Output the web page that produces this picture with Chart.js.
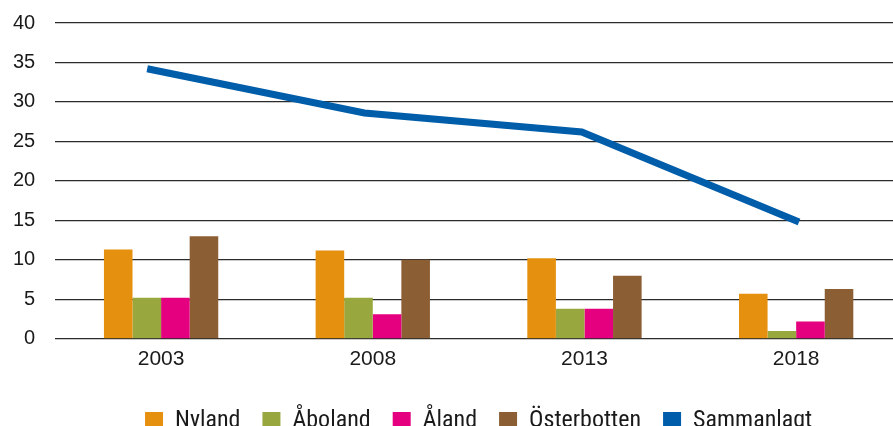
<!DOCTYPE html>
<html>
<head>
<meta charset="utf-8">
<script src="https://cdn.jsdelivr.net/npm/chart.js@4/dist/chart.umd.min.js"></script>
<style>
  html, body { margin: 0; padding: 0; background: #fff; }
  #wrap { width: 893px; height: 426px; overflow: hidden; position: relative; }
  #chart { position: absolute; left: 0; top: -9px; }
</style>
</head>
<body>
<div id="wrap"><canvas id="chart" width="910" height="452"></canvas></div>
<script>
// categories (years) and values
const years = [2003, 2008, 2013, 2018]
const yearLabels = ['2003', '2008', '2013', '2018']

const nyland = [11.3, 11.2, 10.2, 5.7]
const aboland = [5.2, 5.2, 3.8, 1.0]
const aland = [5.2, 3.1, 3.8, 2.2]
const osterbotten = [13.0, 10.0, 8.0, 6.3]
const sammanlagt = [34.2, 28.6, 26.2, 14.8]

const yTicks = [0, 5, 10, 15, 20, 25, 30, 35, 40]

const colors = {
    nyland: '#E6900F',
    aboland: '#99A83E',
    aland: '#E4007E',
    osterbotten: '#8B5E34',
    sammanlagt: '#005DAA'
}

const yFont = { family: "'Liberation Sans', Arial, sans-serif", size: 20 }
const xFont = { family: "'Liberation Sans', Arial, sans-serif", size: 21 }

const ctx = document.getElementById('chart')

const myChart = new Chart(ctx, {
    type: 'bar',
    data: {
        labels: yearLabels,
        datasets: [
            { label: 'Nyland', data: nyland, backgroundColor: colors.nyland, indexAxis: 'x' },
            { label: 'Åboland', data: aboland, backgroundColor: colors.aboland, indexAxis: 'x' },
            { label: 'Åland', data: aland, backgroundColor: colors.aland, indexAxis: 'x' },
            { label: 'Österbotten', data: osterbotten, backgroundColor: colors.osterbotten, indexAxis: 'x' },
            {
                type: 'line',
                label: 'Sammanlagt',
                indexAxis: 'x',
                // the line sits on its own (hidden) year axis, a bit off the bar groups
                data: years.map((yr, i) => ({ x: yr, y: sammanlagt[i] })),
                xAxisID: 'xLine',
                borderColor: colors.sammanlagt,
                backgroundColor: colors.sammanlagt,
                borderWidth: 7,
                pointRadius: 0,
                tension: 0,
                fill: false
            }
        ]
    },
    options: {
        // chart level indexAxis 'y' only so bars don't get split over the 2 x axes
        // (every dataset sets indexAxis 'x' itself)
        indexAxis: 'y',
        responsive: false,
        devicePixelRatio: 1,
        animation: false,
        layout: { padding: { top: 0, right: 8, left: -7, bottom: 0 } },
        datasets: {
            bar: { categoryPercentage: 0.54, barPercentage: 1.0 }
        },
        scales: {
            x: {
                type: 'category',
                axis: 'x',
                offset: true,
                grid: { display: false, offset: true },
                border: { display: false },
                ticks: { color: '#1a1a1a', font: xFont, padding: 0 },
                afterFit: (scale) => { scale.height += 15 } // gap between year labels and legend
            },
            xLine: {
                type: 'linear',
                axis: 'x',
                display: false,
                offset: false,
                min: 2000.884,
                max: 2020.37
            },
            y: {
                type: 'linear',
                axis: 'y',
                offset: false,
                min: 0,
                max: 40,
                afterBuildTicks: (axis) => { axis.ticks = yTicks.map(v => ({ value: v })) },
                grid: { color: '#2b2b2b', lineWidth: 1.2, drawTicks: false, offset: false },
                border: { display: false },
                ticks: { color: '#1a1a1a', font: yFont, padding: 20 }
            }
        },
        plugins: {
            tooltip: { enabled: false },
            legend: {
                position: 'bottom',
                fullSize: false, // centre the legend under the plot, not the canvas
                labels: {
                    color: '#1a1a1a',
                    font: { family: "'Liberation Sans Narrow', 'Roboto Condensed', 'DejaVu Sans Condensed', 'Liberation Sans', sans-serif", size: 24 },
                    boxWidth: 18,
                    boxHeight: 18,
                    padding: 22,
                    generateLabels: (chart) => {
                        const items = Chart.defaults.plugins.legend.labels.generateLabels(chart)
                        return items.map(it => ({ ...it, lineWidth: 0, strokeStyle: 'rgba(0,0,0,0)' }))
                    }
                }
            }
        }
    }
})
</script>
</body>
</html>
